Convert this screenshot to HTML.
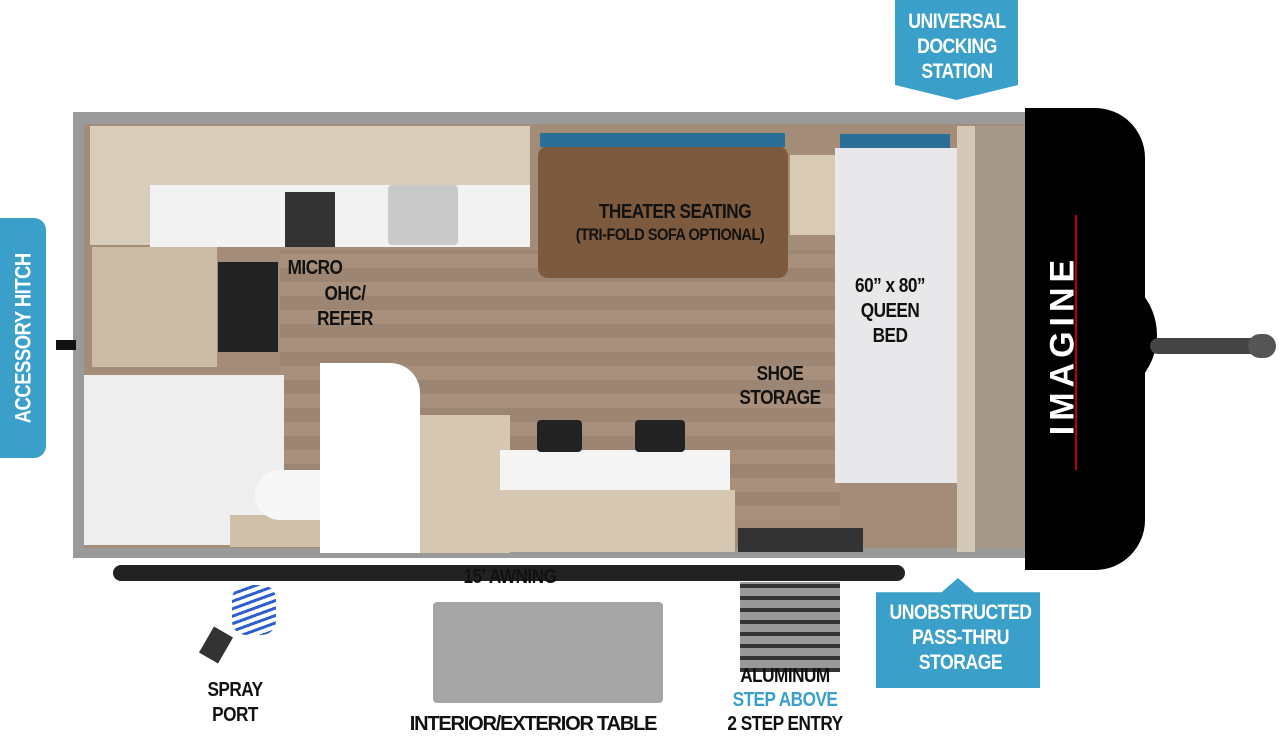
<!DOCTYPE html>
<html><head><meta charset="utf-8"><style>
body{margin:0;width:1280px;height:735px;background:#fff;position:relative;overflow:hidden;font-family:"Liberation Sans",sans-serif;font-weight:bold}
div{position:absolute;box-sizing:border-box}
.t{color:#111;text-align:center;font-size:20px;line-height:24px;white-space:nowrap;letter-spacing:-0.6px;transform:scaleX(0.86)}
.bl{background:#3a9fc9;color:#fff;text-align:center;font-size:21px;line-height:25px;letter-spacing:-0.6px}
.sq{display:inline-block;transform:scaleX(0.84)}
</style></head><body>
<div style="left:73px;top:112px;width:960px;height:446px;background:#9a9a9a"></div>
<div style="left:84px;top:124px;width:940px;height:424px;background:#a48d78"></div>
<div style="left:280px;top:250px;width:560px;height:270px;background:repeating-linear-gradient(0deg,#a8907c 0 14px,#9c8572 14px 28px)"></div>
<div style="left:90px;top:126px;width:440px;height:60px;background:#d8ccbb"></div>
<div style="left:150px;top:185px;width:380px;height:62px;background:#f2f2f2"></div>
<div style="left:90px;top:185px;width:60px;height:60px;background:#d8ccbb"></div>
<div style="left:388px;top:185px;width:70px;height:60px;background:#c9c9c9;border-radius:4px"></div>
<div style="left:285px;top:192px;width:50px;height:55px;background:#333"></div>
<div style="left:92px;top:247px;width:125px;height:120px;background:#cbbba5"></div>
<div style="left:218px;top:262px;width:60px;height:90px;background:#222"></div>
<div style="left:84px;top:375px;width:200px;height:170px;background:#eee"></div>
<div style="left:230px;top:515px;width:150px;height:32px;background:#cdbfa8"></div>
<div style="left:255px;top:470px;width:110px;height:50px;background:#f7f7f7;border-radius:40px 10px 10px 40px"></div>
<div style="left:320px;top:363px;width:100px;height:190px;background:#fff;border-radius:0 30px 0 0"></div>
<div style="left:538px;top:146px;width:250px;height:132px;background:#7d5a3e;border-radius:10px"></div>
<div style="left:540px;top:133px;width:245px;height:14px;background:#2b6e96"></div>
<div style="left:790px;top:155px;width:45px;height:80px;background:#d9cab4"></div>
<div style="left:835px;top:148px;width:122px;height:335px;background:#e8e8ea"></div>
<div style="left:840px;top:134px;width:110px;height:14px;background:#2b6e96"></div>
<div style="left:957px;top:126px;width:18px;height:426px;background:#d4c8b6"></div>
<div style="left:975px;top:126px;width:50px;height:422px;background:#a69888"></div>
<div style="left:420px;top:415px;width:90px;height:138px;background:#d5c7b1"></div>
<div style="left:500px;top:450px;width:230px;height:40px;background:#f4f4f4"></div>
<div style="left:485px;top:490px;width:250px;height:62px;background:#d5c7b1"></div>
<div style="left:537px;top:420px;width:45px;height:32px;background:#222;border-radius:4px"></div>
<div style="left:635px;top:420px;width:50px;height:32px;background:#222;border-radius:4px"></div>
<div style="left:738px;top:528px;width:125px;height:24px;background:#333"></div>
<div style="left:1025px;top:108px;width:120px;height:462px;background:#000;border-radius:0 50px 50px 0"></div>
<div style="left:1025px;top:270px;width:132px;height:130px;background:#000;border-radius:0 70px 70px 0"></div>
<div style="left:1150px;top:338px;width:125px;height:16px;background:#444;border-radius:8px"></div>
<div style="left:1248px;top:334px;width:28px;height:24px;background:#555;border-radius:12px"></div>
<div style="left:1075px;top:215px;width:2px;height:255px;background:#b00"></div>
<div style="left:935px;top:325px;width:255px;height:40px;color:#fff;font-size:34px;letter-spacing:5px;transform:rotate(-90deg);text-align:center;line-height:40px">IMAGINE</div>
<div style="left:56px;top:340px;width:20px;height:10px;background:#111"></div>
<div style="left:113px;top:565px;width:792px;height:16px;background:#222;border-radius:8px"></div>
<div style="left:740px;top:582px;width:100px;height:90px;background:repeating-linear-gradient(0deg,#333 0 4px,#999 4px 12px)"></div>
<div style="left:433px;top:602px;width:230px;height:101px;background:#a5a5a5;border-radius:4px"></div>
<div style="left:232px;top:585px;width:44px;height:50px;background:repeating-linear-gradient(160deg,#2c5fd0 0 3px,transparent 3px 7px);border-radius:14px"></div>
<div style="left:205px;top:630px;width:22px;height:30px;background:#333;transform:rotate(30deg)"></div>
<div class="bl" style="left:0;top:218px;width:46px;height:240px;border-radius:0 12px 12px 0"><div style="left:-97px;top:108px;width:240px;height:25px;transform:rotate(-90deg);font-size:22px"><span class="sq">ACCESSORY HITCH</span></div></div>
<div class="bl" style="left:895px;top:0;width:123px;height:100px;padding-top:9px;clip-path:polygon(0 0,100% 0,100% 85%,50% 100%,0 85%)"><span class="sq">UNIVERSAL<br>DOCKING<br>STATION</span></div>
<div class="bl" style="left:876px;top:578px;width:164px;height:110px;padding-top:22px;clip-path:polygon(0 13%,40% 13%,50% 0,60% 13%,100% 13%,100% 100%,0 100%)"><span class="sq">UNOBSTRUCTED<br>PASS-THRU<br>STORAGE</span></div>
<div class="t" style="left:560px;top:200px;width:230px">THEATER SEATING</div>
<div class="t" style="left:545px;top:223px;width:250px;font-size:17px">(TRI-FOLD SOFA OPTIONAL)</div>
<div class="t" style="left:270px;top:256px;width:90px">MICRO</div>
<div class="t" style="left:300px;top:282px;width:90px;line-height:25px">OHC/<br>REFER</div>
<div class="t" style="left:835px;top:274px;width:110px;line-height:25px">60” x 80”<br>QUEEN<br>BED</div>
<div class="t" style="left:725px;top:362px;width:110px;line-height:24px">SHOE<br>STORAGE</div>
<div class="t" style="left:430px;top:565px;width:160px">15′ AWNING</div>
<div class="t" style="left:185px;top:678px;width:100px;line-height:25px">SPRAY<br>PORT</div>
<div class="t" style="left:383px;top:712px;width:300px;transform:none;letter-spacing:-1.2px">INTERIOR/EXTERIOR TABLE</div>
<div class="t" style="left:715px;top:664px;width:140px;line-height:24px">ALUMINUM<br><span style="color:#3a9fc9">STEP ABOVE</span><br>2 STEP ENTRY</div>
</body></html>
